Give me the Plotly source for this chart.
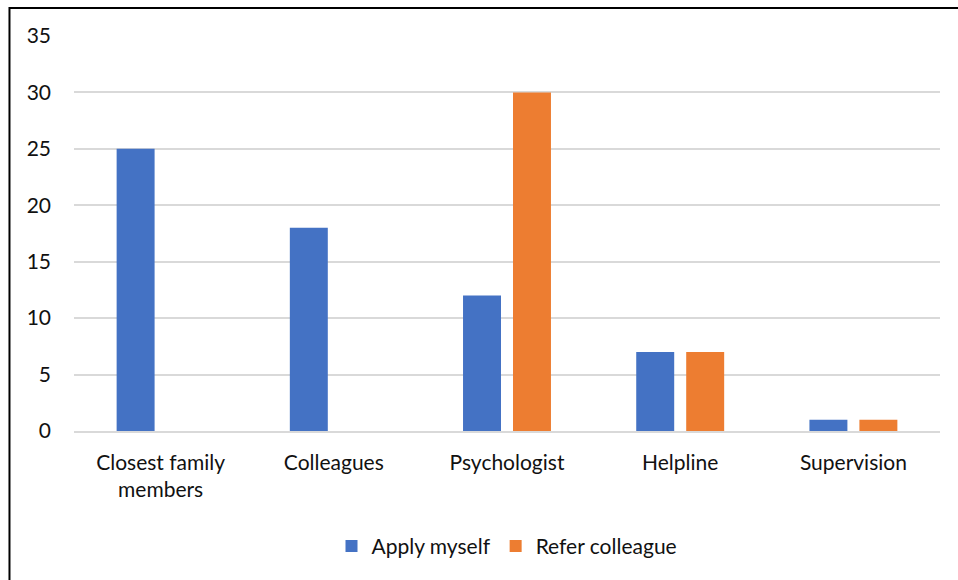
import plotly.graph_objects as go

categories = ["Closest family<br>members", "Colleagues", "Psychologist", "Helpline", "Supervision"]
apply_myself = [25, 18, 12, 7, 1]
refer_colleague = [0, 0, 30, 7, 1]
y_ticks = [0, 5, 10, 15, 20, 25, 30, 35]

FONT = "Lato, Calibri, Carlito, sans-serif"

fig = go.Figure()
fig.add_trace(go.Bar(x=categories, y=apply_myself, name="Apply myself",
                     marker=dict(color="#4472C4", line=dict(width=0))))
fig.add_trace(go.Bar(x=categories, y=refer_colleague, name="Refer colleague",
                     marker=dict(color="#ED7D31", line=dict(width=0))))

fig.update_layout(
    width=958, height=580,
    margin=dict(l=74, r=18, t=36, b=149),
    paper_bgcolor="white", plot_bgcolor="white",
    barmode="group", bargap=0.423, bargroupgap=0.24,
    font=dict(family=FONT, size=21, color="#111111"),
    showlegend=True,
    legend=dict(orientation="h", x=0.5, xanchor="center", y=-0.24, yanchor="top",
                font=dict(size=21), itemwidth=30, traceorder="normal"),
    xaxis=dict(showgrid=False, showline=True, linecolor="#D9D9D9", linewidth=1.5,
               ticks="", tickfont=dict(size=21), ticklabelstandoff=12),
    yaxis=dict(range=[0, 35], tickvals=y_ticks, showgrid=True, gridcolor="#D9D9D9",
               gridwidth=1.5, zeroline=False, showline=False, ticks="",
               tickfont=dict(size=21), ticklabelstandoff=22),
    shapes=[dict(type="rect", xref="paper", yref="paper",
                 x0=-0.0745, x1=1.2, y0=-0.5, y1=1.0709,
                 line=dict(color="black", width=2), fillcolor="rgba(0,0,0,0)",
                 layer="above")],
)

fig.write_html("out.html")
